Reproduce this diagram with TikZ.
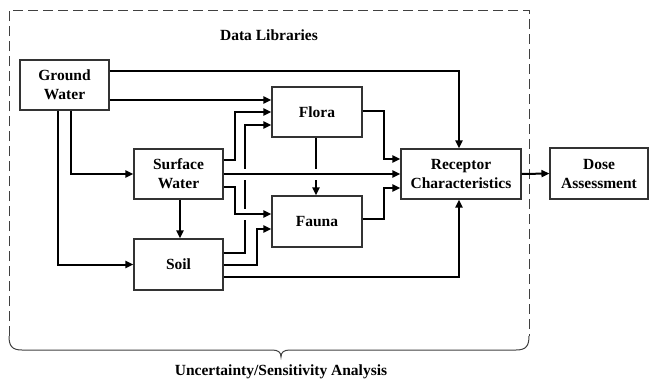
\documentclass[tikz,border=0pt]{standalone}
\usepackage{fontspec}
\setmainfont{Liberation Serif}
\usetikzlibrary{arrows.meta,calc}
\begin{document}
\begin{tikzpicture}[x=1pt,y=-1pt,
  box/.style={draw=black!80, line width=1.1pt, minimum width=89pt, minimum height=50pt,
    align=center, font=\bfseries\fontsize{15.5}{19}\selectfont, inner sep=0pt, fill=white},
  lbl/.style={font=\bfseries\fontsize{15.5}{19}\selectfont, inner sep=0pt},
  conn/.style={line width=2pt, -{Triangle[length=8pt,width=7pt]}},
  gapline/.style={draw=white, line width=4pt},
  frameline/.style={draw=black!75, line width=1pt},
  dashframe/.style={frameline, dash pattern=on 10pt off 5pt}]
\useasboundingbox (0,0) rectangle (650,383);

% frame
\draw[dashframe] (9,336) -- (9,10) -- (529,10) -- (529,336);
\draw[frameline] (9,336) .. controls (9,346) and (12,350) .. (22,350) -- (272,350)
  .. controls (278,350) and (281,352) .. (281,357)
  .. controls (281,352) and (284,350) .. (290,350) -- (516,350)
  .. controls (526,350) and (529,346) .. (529,336);

\node[lbl] (dl) at (269,35) {Data Libraries};
\node[lbl] (ua) at (281,372) {Uncertainty/Sensitivity Analysis};

% boxes
\node[box] (gw) at (64.5,85) {Ground\\Water};
\node[box] (sw) at (178.5,174) {Surface\\Water};
\node[box, minimum height=51pt] (soil) at (178.5,264.5) {Soil};
\node[box, minimum width=90pt] (flora) at (317,112) {Flora};
\node[box, minimum width=90pt, minimum height=51pt] (fauna) at (317,221.5) {Fauna};
\node[box, minimum width=120pt] (rec) at (461,174) {Receptor\\Characteristics};
\node[box, minimum width=98pt, minimum height=51pt] (dose) at (599,173.5) {Dose\\Assessment};

% helper coordinates
\coordinate (bx1) at (235,0);
\coordinate (bx2) at (245,0);
\coordinate (bx3) at (257,0);
\coordinate (bx4) at (384,0);
\coordinate (gwA) at ($(gw.east)+(0,15)$);
\coordinate (flC) at ($(flora.west)+(0,13)$);
\coordinate (faA) at ($(fauna.west)+(0,-7.5)$);
\coordinate (faB) at ($(fauna.west)+(0,7.5)$);
\coordinate (recA) at ($(rec.west)+(0,-15)$);
\coordinate (recB) at ($(rec.west)+(0,14)$);
\coordinate (ffx) at ($(flora.south)+(-1,0)$);
\coordinate (x1) at (bx2 |- sw.east);
\coordinate (x2) at (bx2 |- faA);
\coordinate (x3) at (ffx |- sw.east);

% connectors that get crossed
\draw[conn] ($(soil.east)+(0,-11.5)$) -| (bx2 |- flC) -- (flC);
\draw[conn] (ffx) -- (ffx |- fauna.north);

% gaps
\draw[gapline] ($(x1)+(0,-5.5)$) -- ($(x1)+(0,5.5)$);
\draw[gapline] ($(x2)+(0,-5.5)$) -- ($(x2)+(0,5.5)$);
\draw[gapline] ($(x3)+(0,-5.5)$) -- ($(x3)+(0,5.5)$);

% other connectors
\draw[conn] ($(gw.east)+(0,-14)$) -| ($(rec.north)+(-2,0)$);
\draw[conn] (gwA) -- (gwA -| flora.west);
\draw[conn] ($(sw.east)+(0,-14)$) -| (bx1 |- flora.west) -- (flora.west);
\draw[conn] ($(sw.east)+(0,13)$) -| (bx1 |- faA) -- (faA);
\draw[conn] (sw.east) -- (rec.west);
\draw[conn] ($(soil.east)+(0,0.5)$) -| (bx3 |- faB) -- (faB);
\draw[conn] ($(soil.east)+(0,12.5)$) -| ($(rec.south)+(-2,0)$);
\draw[conn] ($(flora.east)+(0,-1)$) -| (bx4 |- recA) -- (recA);
\draw[conn] ($(fauna.east)+(0,-2.5)$) -| (bx4 |- recB) -- (recB);
\draw[conn] ($(gw.south)+(6.5,0)$) |- (sw.west);
\draw[conn] ($(gw.south)+(-6.5,0)$) |- (soil.west);
\draw[conn] ($(sw.south)+(1.5,0)$) -- ($(soil.north)+(1.5,0)$);
\draw[conn] (rec.east) -- (dose.west);
\end{tikzpicture}
\end{document}
